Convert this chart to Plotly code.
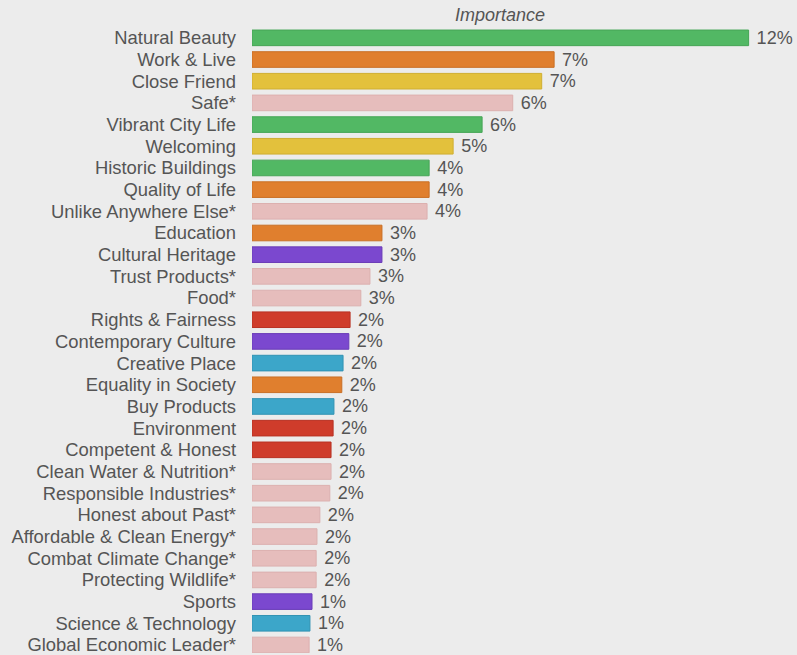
import plotly.graph_objects as go

categories = [
    "Natural Beauty", "Work & Live", "Close Friend", "Safe*", "Vibrant City Life",
    "Welcoming", "Historic Buildings", "Quality of Life", "Unlike Anywhere Else*",
    "Education", "Cultural Heritage", "Trust Products*", "Food*", "Rights & Fairness",
    "Contemporary Culture", "Creative Place", "Equality in Society", "Buy Products",
    "Environment", "Competent & Honest", "Clean Water & Nutrition*",
    "Responsible Industries*", "Honest about Past*", "Affordable & Clean Energy*",
    "Combat Climate Change*", "Protecting Wildlife*", "Sports",
    "Science & Technology", "Global Economic Leader*",
]
values = [
    12.0, 7.3, 7.0, 6.3, 5.56, 4.86, 4.28, 4.28, 4.23, 3.14, 3.14, 2.85, 2.63,
    2.37, 2.34, 2.2, 2.17, 1.98, 1.96, 1.91, 1.91, 1.88, 1.64, 1.57, 1.55, 1.55,
    1.45, 1.40, 1.38,
]
labels = [
    "12%", "7%", "7%", "6%", "6%", "5%", "4%", "4%", "4%", "3%", "3%", "3%", "3%",
    "2%", "2%", "2%", "2%", "2%", "2%", "2%", "2%", "2%", "2%", "2%", "2%", "2%",
    "1%", "1%", "1%",
]
groups = [
    "green", "orange", "yellow", "pink", "green", "yellow", "green", "orange", "pink",
    "orange", "purple", "pink", "pink", "red", "purple", "blue", "orange", "blue",
    "red", "red", "pink", "pink", "pink", "pink", "pink", "pink", "purple", "blue",
    "pink",
]
palette = {
    "green": "#52b864", "orange": "#e07f2e", "yellow": "#e3c13c", "pink": "#e6bdbc",
    "purple": "#7b48cf", "blue": "#3ca6c9", "red": "#cf3c2b",
}
edge = {
    "green": "#46a556", "orange": "#c96f25", "yellow": "#cfae30", "pink": "#dcb0af",
    "purple": "#6a3cb8", "blue": "#3192b3", "red": "#b83224",
}

fig = go.Figure(go.Bar(
    x=values, y=categories, orientation="h",
    marker=dict(color=[palette[g] for g in groups],
                line=dict(color=[edge[g] for g in groups], width=1)),
    width=0.72,
    text=labels, texttemplate=" %{text}", textposition="outside",
    constraintext="none", cliponaxis=False,
    textfont=dict(family="Liberation Sans, Arial, sans-serif", size=18, color="#555555"),
))

fig.update_layout(
    width=797, height=655,
    margin=dict(l=252, r=7, t=27, b=0),
    paper_bgcolor="#ececec", plot_bgcolor="#ececec",
    showlegend=False,
    font=dict(family="Liberation Sans, Arial, sans-serif", size=18, color="#555555"),
    xaxis=dict(range=[0, 13], visible=False, showgrid=False, zeroline=False),
    yaxis=dict(type="category", range=[28.37, -0.5], showgrid=False, zeroline=False,
               showline=False, ticks="", ticklabelstandoff=15,
               tickmode="linear", tick0=0, dtick=1,
               tickfont=dict(size=18.4, color="#555555")),
    annotations=[dict(text="<i>Importance</i>", x=6.0, xref="x", y=1.019, yref="paper",
                      showarrow=False, xanchor="center", yanchor="middle",
                      font=dict(size=18, color="#555555"))],
)

fig.write_html(
    "out.html",
    config={"displayModeBar": False},
    post_script="document.body.style.margin='0';document.body.style.padding='0';"
                "document.body.style.overflow='hidden';"
                "document.body.style.background='#ececec';",
)
